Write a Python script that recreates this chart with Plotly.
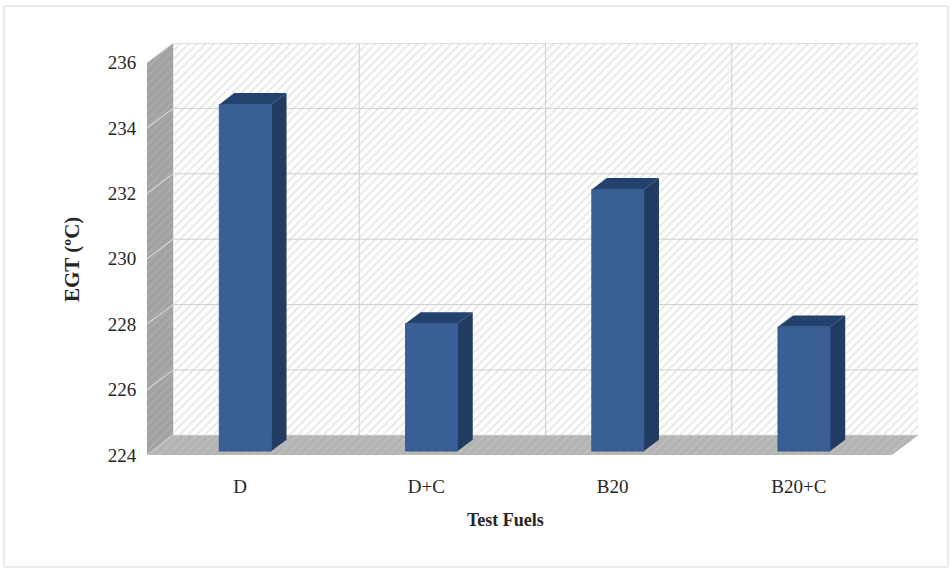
import plotly.graph_objects as go

# Exhaust gas temperature for each test fuel
fuels = ["D", "D+C", "B20", "B20+C"]
egt = [234.6, 227.9, 232.0, 227.8]

# Value axis
y_min, y_max, y_step = 224, 236, 2
y_ticks = list(range(y_min, y_max + 1, y_step))

# Oblique projection of the depth direction (category units, value units)
ox, oy = 0.14, 0.6
bar_half = 0.14          # half width of a column, in category units
d_front, d_back = 0.2, 0.78   # depth of the column front / back faces

n = len(fuels)
x_lo, x_hi = -0.5, n - 0.5

FONT = "Liberation Serif, Times New Roman, serif"
fig = go.Figure()


def poly(xs, ys, fill, line="rgba(0,0,0,0)", pattern=None):
    kw = dict(x=xs + [xs[0]], y=ys + [ys[0]], mode="lines", fill="toself",
              fillcolor=fill, line=dict(color=line, width=0.8),
              hoverinfo="skip", showlegend=False)
    if pattern:
        kw["fillpattern"] = pattern
    fig.add_trace(go.Scatter(**kw))


def seg(xs, ys, color, width=1):
    fig.add_trace(go.Scatter(x=xs, y=ys, mode="lines",
                             line=dict(color=color, width=width),
                             hoverinfo="skip", showlegend=False))


hatch_wall = dict(shape="/", fgcolor="#cdcdcd", bgcolor="#ffffff", size=6, solidity=0.28)
hatch_side = dict(shape="/", fgcolor="#b8b8b8", bgcolor="#a2a2a2", size=6, solidity=0.25)
hatch_floor = dict(shape="/", fgcolor="#c8c8c8", bgcolor="#b4b4b4", size=6, solidity=0.25)

# Back wall
poly([x_lo + ox, x_hi + ox, x_hi + ox, x_lo + ox],
     [y_min + oy, y_min + oy, y_max + oy, y_max + oy],
     "#ffffff", line="#e0e0e0", pattern=hatch_wall)

# Left side wall
poly([x_lo, x_lo, x_lo + ox, x_lo + ox],
     [y_min, y_max, y_max + oy, y_min + oy],
     "#a2a2a2", pattern=hatch_side)

# Gridlines on back wall and side wall
for v in y_ticks:
    seg([x_lo + ox, x_hi + ox], [v + oy, v + oy], "#cfcfcf", 1)
    seg([x_lo, x_lo + ox], [v, v + oy], "#e8e8e8", 1)
for k in range(1, n):
    xb = x_lo + k + ox
    seg([xb, xb], [y_min + oy, y_max + oy], "#cfcfcf", 1)

# Floor
poly([x_lo, x_hi, x_hi + ox, x_lo + ox],
     [y_min, y_min, y_min + oy, y_min + oy],
     "#b4b4b4", pattern=hatch_floor)
seg([x_lo, x_hi], [y_min - 0.03, y_min - 0.03], "#d6d6d6", 2)

# Columns: front, right side and top faces
for i, v in enumerate(egt):
    xl = i - bar_half
    xr = i + bar_half
    fx0, fx1 = xl + d_front * ox, xr + d_front * ox
    bx0, bx1 = xl + d_back * ox, xr + d_back * ox
    fy0, fy1 = y_min + d_front * oy, v + d_front * oy
    by0, by1 = y_min + d_back * oy, v + d_back * oy
    # side
    poly([fx1, bx1, bx1, fx1], [fy0, by0, by1, fy1], "#213b62")
    # top
    poly([fx0, fx1, bx1, bx0], [fy1, fy1, by1, by1], "#24426e")
    # front
    poly([fx0, fx1, fx1, fx0], [fy0, fy0, fy1, fy1], "#3a5f96", line="#2f5286")

fig.update_layout(
    width=952, height=569,
    margin=dict(l=147, r=34, t=43, b=114),
    paper_bgcolor="#ffffff", plot_bgcolor="#ffffff",
    font=dict(family=FONT, size=19, color="#262626"),
    showlegend=False,
    xaxis=dict(range=[x_lo, x_hi + ox], tickvals=list(range(n)), ticktext=fuels,
               showgrid=False, zeroline=False, showline=False,
               ticks="outside", ticklen=14, tickcolor="rgba(0,0,0,0)",
               tickfont=dict(family=FONT, size=19, color="#262626"), fixedrange=True),
    yaxis=dict(range=[y_min, y_max + oy], tickvals=y_ticks,
               showgrid=False, zeroline=False, showline=False,
               ticks="outside", ticklen=6, tickcolor="rgba(0,0,0,0)",
               tickfont=dict(family=FONT, size=19, color="#262626"), fixedrange=True),
    shapes=[dict(type="rect", xref="paper", yref="paper",
                 x0=-0.1855, x1=1.039, y0=-0.2718, y1=1.0898,
                 line=dict(color="#d9d9d9", width=1), layer="below")],
    annotations=[
        dict(text="<b>Test Fuels</b>", xref="paper", yref="paper",
             x=0.4656, y=-0.1578, xanchor="center", yanchor="middle",
             showarrow=False, font=dict(family=FONT, size=18, color="#262626")),
        dict(text="<b>EGT (ºC)</b>", xref="paper", yref="paper",
             x=-0.0973, y=0.4757, xanchor="center", yanchor="middle",
             showarrow=False, textangle=-90,
             font=dict(family=FONT, size=21, color="#262626")),
    ],
)

fig.write_html("out.html")
